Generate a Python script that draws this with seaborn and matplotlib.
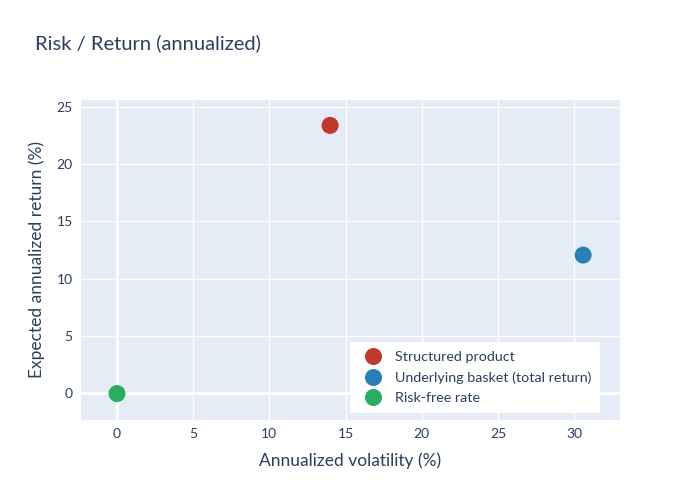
import matplotlib
matplotlib.use("Agg")
import matplotlib.pyplot as plt
import seaborn as sns
import pandas as pd

names = ["Structured product", "Underlying basket (total return)", "Risk-free rate"]
volatility = [13.98, 30.58, 0.0]
returns = [23.38, 12.05, -0.05]
colors = ["#c0392b", "#2980b9", "#27ae60"]

df = pd.DataFrame({"name": names, "vol": volatility, "ret": returns})

sns.set_style("darkgrid")
plt.rcParams["font.family"] = ["Lato", "DejaVu Sans"]
text_color = "#2a3f5f"

fig = plt.figure(figsize=(7, 5), dpi=100)
ax = fig.add_axes([81 / 700, 80 / 500, 539 / 700, 320 / 500])
ax.set_facecolor("#e5ecf6")

ax.axvline(0, color="white", lw=2, zorder=1)
ax.axhline(0, color="white", lw=2, zorder=1)

sns.scatterplot(data=df, x="vol", y="ret", hue="name", palette=colors,
                s=150, edgecolor="none", ax=ax, zorder=3)

ax.set_xlim(-2.36, 33.0)
ax.set_ylim(-2.36, 25.6)
ax.set_xticks([0, 5, 10, 15, 20, 25, 30])
ax.set_yticks([0, 5, 10, 15, 20, 25])
ax.grid(color="white", lw=1)
for s in ax.spines.values():
    s.set_visible(False)
ax.tick_params(colors=text_color, labelsize=10, length=0, pad=6)

ax.set_xlabel("Annualized volatility (%)", fontsize=12.5, color=text_color, labelpad=9)
ax.set_ylabel("Expected annualized return (%)", fontsize=12.5, color=text_color, labelpad=8)
fig.text(35 / 700, 1 - 43 / 500, "Risk / Return (annualized)", fontsize=14.5,
         color=text_color, va="center", ha="left")

leg = ax.legend(loc="lower right", bbox_to_anchor=(0.963, 0.022), frameon=True,
                fontsize=10.3, handletextpad=0.55, borderpad=0.6, labelspacing=0.6,
                borderaxespad=0, markerscale=1.0)
leg.get_frame().set_facecolor("white")
leg.get_frame().set_edgecolor("none")
leg.get_frame().set_alpha(1)
leg.get_frame().set_boxstyle("square", pad=0)
for t in leg.get_texts():
    t.set_color(text_color)

fig.savefig("out.png", dpi=100)
